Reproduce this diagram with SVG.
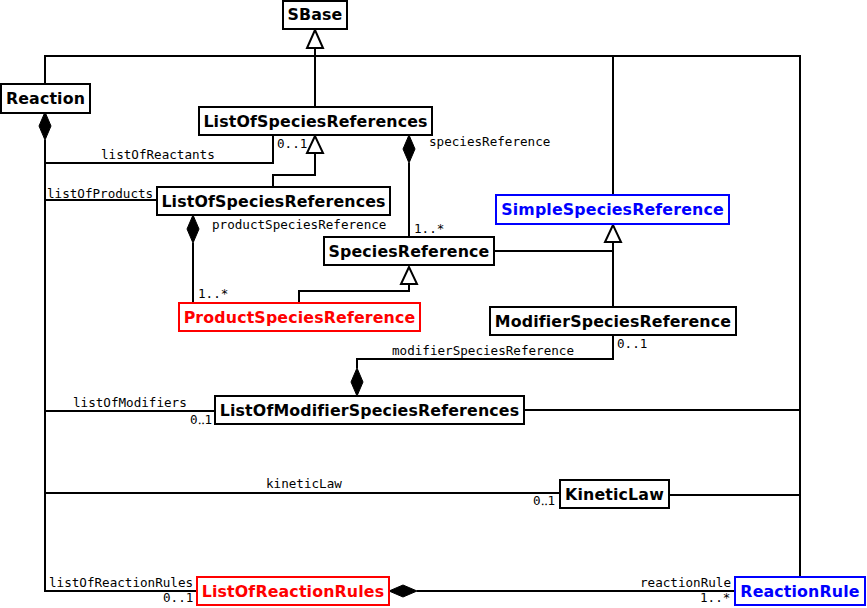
<svg xmlns="http://www.w3.org/2000/svg" width="867" height="608" viewBox="0 0 867 608">
<style>
.box{fill:#fff;stroke:#000;stroke-width:2}
.red .box{stroke:#f00}
.blue .box{stroke:#00f}
.t{font-family:"DejaVu Sans",sans-serif;font-weight:bold;font-size:15.8px;letter-spacing:0.15px;text-anchor:middle;fill:#000}
.red .t{fill:#f00}
.blue .t{fill:#00f}
.l{font-family:"DejaVu Sans Mono",monospace;font-size:12.6px;fill:#000}
.c{fill:none;stroke:#000;stroke-width:2}
.gen{fill:#fff;stroke:#000;stroke-width:2}
.dia{fill:#000;stroke:#000;stroke-width:1}
</style>
<rect width="867" height="608" fill="#fff"/>
<g id="connectors">
<polyline class="c" points="45,84 45,56 800,56 800,577"/>
<line class="c" x1="613" y1="56" x2="613" y2="195"/>
<line class="c" x1="315" y1="48" x2="315" y2="107"/>
<polygon class="gen" points="315,30 307,48 323,48"/>
<polyline class="c" points="45,140 45,591 197,591"/>
<polygon class="dia" points="45,112 51,126 45,140 39,126"/>
<polyline class="c" points="45,163 273,163 273,135"/>
<polyline class="c" points="273,187 273,175 315,175 315,153"/>
<polygon class="gen" points="315,136 307,153 323,153"/>
<line class="c" x1="45" y1="200" x2="157" y2="200"/>
<line class="c" x1="193" y1="243" x2="193" y2="303"/>
<polygon class="dia" points="193,215 199,229 193,243 187,229"/>
<line class="c" x1="409" y1="163" x2="409" y2="237"/>
<polygon class="dia" points="409,135 415,149 409,163 403,149"/>
<polyline class="c" points="299,303 299,291 409,291 409,284"/>
<polygon class="gen" points="409,267 401,284 417,284"/>
<polyline class="c" points="494,251 613,251"/>
<line class="c" x1="613" y1="242" x2="613" y2="307"/>
<polygon class="gen" points="613,225 605,242 621,242"/>
<polyline class="c" points="613,335 613,359 357,359 357,368"/>
<polygon class="dia" points="357,368 363,382 357,396 351,382"/>
<line class="c" x1="45" y1="411" x2="215" y2="411"/>
<line class="c" x1="524" y1="410" x2="800" y2="410"/>
<line class="c" x1="45" y1="493" x2="560" y2="493"/>
<line class="c" x1="669" y1="495" x2="800" y2="495"/>
<line class="c" x1="417" y1="591" x2="735" y2="591"/>
<polygon class="dia" points="389,591 403,585 417,591 403,597"/>
</g>
<g id="labels">
<text class="l" x="101" y="159">listOfReactants</text>
<text class="l" x="277" y="148">0..1</text>
<text class="l" x="47" y="198">listOfProducts</text>
<text class="l" x="212" y="229">productSpeciesReference</text>
<text class="l" x="198" y="298">1..*</text>
<text class="l" x="429" y="146">speciesReference</text>
<text class="l" x="414" y="233">1..*</text>
<text class="l" x="392" y="355">modifierSpeciesReference</text>
<text class="l" x="617" y="348">0..1</text>
<text class="l" x="73" y="407">listOfModifiers</text>
<text class="l" x="190" y="424">0‥1</text>
<text class="l" x="266" y="488">kineticLaw</text>
<text class="l" x="533" y="505">0‥1</text>
<text class="l" x="49" y="587">listOfReactionRules</text>
<text class="l" x="163" y="602">0..1</text>
<text class="l" x="640" y="587">reactionRule</text>
<text class="l" x="700" y="602">1..*</text>
</g>
<g id="SBase"><rect class="box" x="283" y="1" width="64" height="28"/><text class="t" x="315" y="20">SBase</text></g>
<g id="Reaction"><rect class="box" x="1" y="84" width="89" height="29"/><text class="t" x="45.5" y="104">Reaction</text></g>
<g id="ListOfSpeciesReferences1"><rect class="box" x="199" y="107" width="233" height="28"/><text class="t" x="315.5" y="127">ListOfSpeciesReferences</text></g>
<g id="ListOfSpeciesReferences2"><rect class="box" x="157" y="187" width="233" height="28"/><text class="t" x="273.5" y="207">ListOfSpeciesReferences</text></g>
<g id="SimpleSpeciesReference" class="blue"><rect class="box" x="496" y="195" width="233" height="29"/><text class="t" x="612.5" y="215">SimpleSpeciesReference</text></g>
<g id="SpeciesReference"><rect class="box" x="324" y="237" width="170" height="28"/><text class="t" x="409" y="257">SpeciesReference</text></g>
<g id="ProductSpeciesReference" class="red"><rect class="box" x="179" y="303" width="241" height="28"/><text class="t" x="299.5" y="323">ProductSpeciesReference</text></g>
<g id="ModifierSpeciesReference"><rect class="box" x="490" y="307" width="246" height="28"/><text class="t" x="613" y="327">ModifierSpeciesReference</text></g>
<g id="ListOfModifierSpeciesReferences"><rect class="box" x="215" y="396" width="309" height="28"/><text class="t" x="369.5" y="416">ListOfModifierSpeciesReferences</text></g>
<g id="KineticLaw"><rect class="box" x="560" y="480" width="109" height="28"/><text class="t" x="614.5" y="500">KineticLaw</text></g>
<g id="ListOfReactionRules" class="red"><rect class="box" x="197" y="577" width="192" height="28"/><text class="t" x="293" y="597">ListOfReactionRules</text></g>
<g id="ReactionRule" class="blue"><rect class="box" x="735" y="577" width="130" height="28"/><text class="t" x="800" y="597">ReactionRule</text></g>
</svg>
